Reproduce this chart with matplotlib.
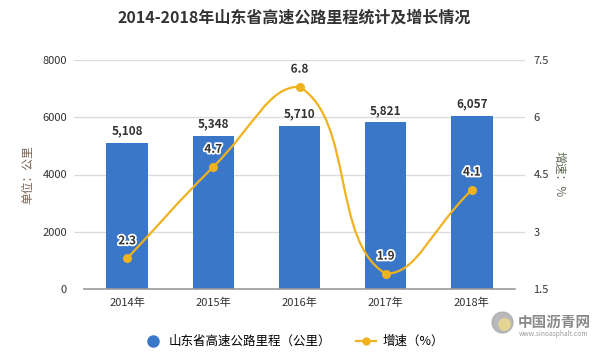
import numpy as np
import matplotlib
matplotlib.use("Agg")
import matplotlib.pyplot as plt
import matplotlib.patheffects as pe
from matplotlib.path import Path
from matplotlib.patches import PathPatch
from matplotlib.lines import Line2D

plt.rcParams['font.family'] = ['Noto Sans CJK SC', 'DejaVu Sans']

# 数据
years = ['2014年', '2015年', '2016年', '2017年', '2018年']
mileage = [5108, 5348, 5710, 5821, 6057]
growth = [2.3, 4.7, 6.8, 1.9, 4.1]

bar_color = '#3a77c8'
line_color = '#f0b21e'
text_color = '#333333'

fig = plt.figure(figsize=(6.05, 3.56), dpi=100)
ax = fig.add_axes([74 / 605, 67 / 356, 451 / 605, 229 / 356])
ax2 = ax.twinx()

x = np.arange(len(years))
ax.bar(x, mileage, width=0.48, color=bar_color, zorder=2)
ax.set_xlim(-0.616, len(years) - 1 + 0.616)
ax.set_ylim(0, 8000)
ax.set_yticks([0, 2000, 4000, 6000, 8000])
ax.set_xticks(x)
ax.set_xticklabels(years)

# 网格线和坐标轴
for v in [2000, 4000, 6000, 8000]:
    ax.axhline(v, color='#dcdcdc', lw=1, zorder=0)
ax.plot([-0.5, len(years) - 0.5], [0, 0], color='#999999', lw=1.2, zorder=3, clip_on=False)
for s in ['top', 'bottom', 'left', 'right']:
    ax.spines[s].set_visible(False)
    ax2.spines[s].set_visible(False)
ax.tick_params(axis='both', length=0, labelsize=8, colors=text_color)
ax.tick_params(axis='y', pad=5)
ax.tick_params(axis='x', pad=6)

for xi, v in zip(x, mileage):
    ax.text(xi, v + 180, f'{v:,}', ha='center', va='bottom', fontsize=8.5,
            fontweight='bold', color=text_color)

ax.set_ylabel('单位：公里', fontsize=8.5, color='#7a6352', labelpad=6)

# 右轴
ax2.set_ylim(1.5, 7.5)
ax2.set_yticks([1.5, 3, 4.5, 6, 7.5])
ax2.set_yticklabels(['1.5', '3', '4.5', '6', '7.5'])
ax2.tick_params(axis='y', length=0, labelsize=8, colors=text_color, pad=6)
ax2.set_ylabel('增速：%', fontsize=8.5, color='#5f6b55', rotation=270, labelpad=12)

# 平滑曲线 (控制点在像素坐标中计算，并限制在相邻点之间)
pts = ax2.transData.transform(np.column_stack([x, growth]))
smooth = 0.5
n = len(pts)
cps_prev = [None] * n
cps_next = [None] * n
for i in range(n):
    p = pts[i]
    prev = pts[i - 1] if i > 0 else p
    nxt = pts[i + 1] if i < n - 1 else p
    v = nxt - prev
    lp = np.hypot(*(p - prev))
    ln = np.hypot(*(nxt - p))
    ratio = ln / (lp + ln) if lp + ln > 0 else 0.5
    c0 = p - v * smooth * (1 - ratio)
    c1 = p + v * smooth * ratio
    c0 = np.clip(c0, np.minimum(prev, p), np.maximum(prev, p))
    c1 = np.clip(c1, np.minimum(nxt, p), np.maximum(nxt, p))
    cps_prev[i] = c0
    cps_next[i] = c1

verts = [pts[0]]
codes = [Path.MOVETO]
for i in range(n - 1):
    verts += [cps_next[i], cps_prev[i + 1], pts[i + 1]]
    codes += [Path.CURVE4] * 3
inv = ax2.transData.inverted()
verts = inv.transform(np.array(verts))
ax2.add_patch(PathPatch(Path(verts, codes), facecolor='none', edgecolor=line_color,
                        lw=1.6, zorder=4))
ax2.plot(x, growth, 'o', color=line_color, markersize=5.5, zorder=5)

for xi, g in zip(x, growth):
    ax2.annotate(f'{g}', (xi, g), xytext=(0, 8), textcoords='offset points',
                 ha='center', va='bottom', fontsize=8.5, fontweight='bold', color=text_color,
                 path_effects=[pe.withStroke(linewidth=2.5, foreground='white')], zorder=6)

# 标题
fig.text(0.487, 0.952, '2014-2018年山东省高速公路里程统计及增长情况', ha='center', va='center',
         fontsize=11.5, fontweight='bold', color=text_color)

# 图例
handles = [
    Line2D([], [], marker='o', color=bar_color, linestyle='none', markersize=8),
    Line2D([], [], marker='o', color=line_color, lw=1.6, markersize=5),
]
fig.legend(handles, ['山东省高速公路里程（公里）', '增速（%）'], loc='center',
           bbox_to_anchor=(0.485, 0.04), ncol=2, frameon=False,
           handlelength=1.6, columnspacing=2.0, handletextpad=0.5,
           prop={'weight': 'medium', 'size': 9})

# 水印标识
fig.add_artist(Line2D([502 / 605], [1 - 322 / 356], marker='o', markersize=15,
                      color='#a8a8a8', alpha=0.8, transform=fig.transFigure))
fig.add_artist(Line2D([504 / 605], [1 - 324 / 356], marker='o', markersize=8,
                      color='#e8d890', alpha=0.9, transform=fig.transFigure))
fig.text(0.855, 0.0955, '中国沥青网', ha='left', va='center', fontsize=10.5,
         fontweight='bold', color='#8a8a8a')
fig.text(0.857, 0.062, 'www.sinoasphalt.com', ha='left', va='center', fontsize=4.8,
         color='#9a9a9a')

fig.savefig('out.png', dpi=100)
